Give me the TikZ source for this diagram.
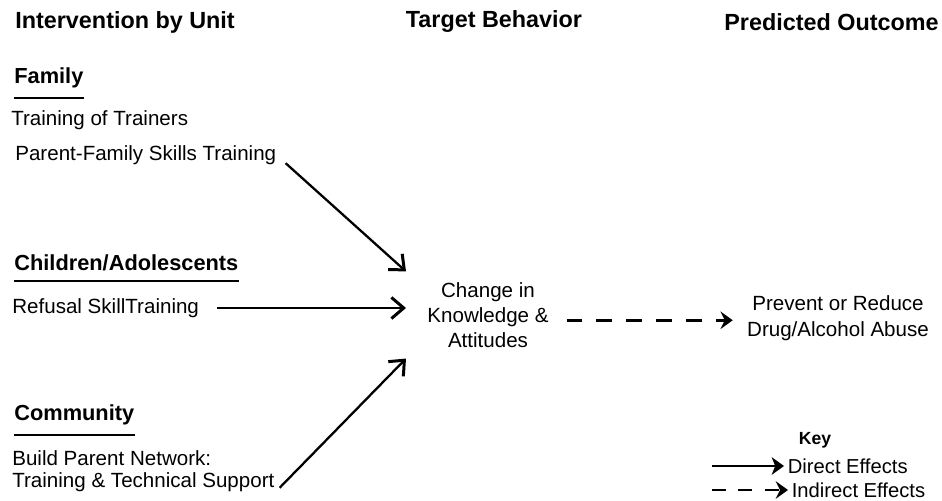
\documentclass[tikz,border=0pt]{standalone}
\usepackage{fontspec}
\setmainfont{Liberation Sans}
\usetikzlibrary{arrows.meta,positioning}

\begin{document}
\begin{tikzpicture}[x=0.02cm,y=-0.02cm,
  head/.style={font=\bfseries\fontsize{13.3}{16}\selectfont},
  unit/.style={font=\bfseries\fontsize{12.4}{15}\selectfont, anchor=west, inner xsep=0pt},
  item/.style={font=\fontsize{11.7}{14.3}\selectfont, anchor=west, inner xsep=0pt},
  effect/.style={-{Straight Barb[length=7pt,width=12pt,line width=1.7pt]}, line width=1.3pt},
  indirect/.style={line width=1.6pt, dash pattern=on 9pt off 8pt, -{Stealth[length=7pt,width=10pt,inset=2.5pt]}}]
  \useasboundingbox (0,0) rectangle (942,500);

  % column headings
  \node[head, anchor=west, inner xsep=0pt] (hint) at (15,22) {Intervention by Unit};
  \node[head] (htgt) at (494,22) {Target Behavior};
  \node[head, anchor=east, inner xsep=0pt] (hout) at (939,22) {Predicted Outcome};

  % units
  \node[unit] (fam) at (14,78) {Family};
  \node[item] (tot) at (11,120) {Training of Trainers};
  \node[item] (pfst) at (15,155) {Parent-Family Skills Training};
  \node[unit] (kids) at (14,263) {Children/Adolescents};
  \node[item] (rst) at (12,308) {Refusal SkillTraining};
  \node[unit] (comm) at (14,415) {Community};
  \node[item, align=left, font=\fontsize{11.7}{12.8}\selectfont] (bpn) at (12,471)
    {Build Parent Network:\\Training \& Technical Support};
  \foreach \u in {fam,kids,comm}
    \draw[line width=1.1pt] ([yshift=-2pt]\u.south west) -- ([yshift=-2pt]\u.south east);

  % target and outcome
  \node[item, anchor=center, align=center, inner xsep=12pt, inner ysep=6pt] (chg) at (488,315)
    {Change in\\Knowledge \&\\Attitudes};
  \node[item, anchor=center, align=center, inner xsep=8pt, font=\fontsize{11.7}{14.8}\selectfont] (out) at (838,318)
    {Prevent or Reduce\\Drug/Alcohol Abuse};

  \draw[effect, shorten <=7pt] (pfst.east) -- (chg.north west);
  \draw[effect, shorten <=10pt] (rst.east) -- (rst.east -| chg.west);
  \draw[effect, shorten <=4pt] ([yshift=3pt]bpn.south east) -- (chg.south west);
  \draw[indirect, shorten <=-2pt] ([yshift=-3pt]chg.east) -- ([yshift=-3pt]chg.east -| out.west);

  % key
  \node[font=\bfseries\fontsize{10}{12}\selectfont] (key) at (815,440) {Key};
  \node[item, inner xsep=2pt, font=\fontsize{11.5}{13}\selectfont] (dir) at (784,466) {Direct Effects};
  \node[item, inner xsep=2pt, font=\fontsize{11.5}{13}\selectfont] (ind) at (788,490) {Indirect Effects};
  \coordinate (kd) at (712,466);
  \coordinate (ki) at (712,490);
  \draw[line width=1.3pt, -{Stealth[length=7pt,width=10pt,inset=2pt]}] (kd) -- (dir.west);
  \draw[indirect, dash pattern=on 8pt off 7pt] (ki) -- (ind.west);
\end{tikzpicture}
\end{document}
